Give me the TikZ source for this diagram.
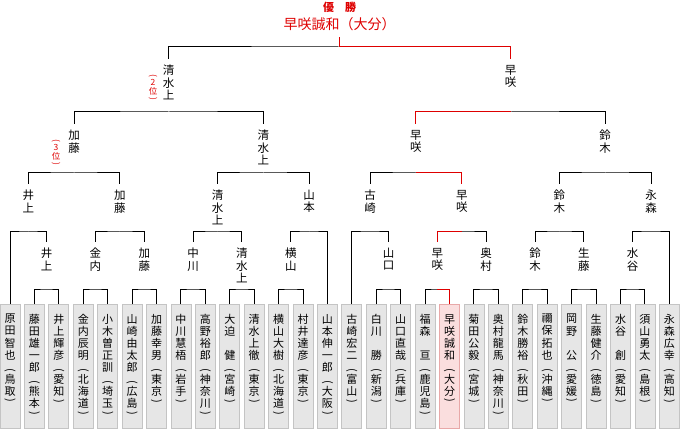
\documentclass[tikz,border=0pt]{standalone}
\usepackage{graphicx}
\usepackage{fontspec}
\newfontfamily\jpfont{Noto Sans CJK JP}

\definecolor{winred}{RGB}{222,0,0}
\definecolor{boxgray}{RGB}{230,230,230}
\definecolor{boxedge}{RGB}{196,196,196}
\definecolor{winfill}{RGB}{250,222,222}
\definecolor{winedge}{RGB}{232,168,168}

% vertical brackets, taking no room of their own
\newcommand\vlp{\raisebox{-0.2em}[0pt][0pt]{\rotatebox[origin=c]{-90}{(}}}
\newcommand\vrp{\raisebox{0.3em}[0pt][0pt]{\rotatebox[origin=c]{-90}{)}}}

\tikzset{
    bracket/.style={draw=black, line width=1pt},
    winline/.style={draw=winred, line width=1pt},
    pbox/.style={draw=boxedge, fill=boxgray, line width=0.8pt,
        minimum width=20pt, minimum height=124pt, inner sep=0pt},
    winbox/.style={pbox, draw=winedge, fill=winfill},
    ptext/.style={font=\jpfont\fontsize{11}{12.05}\selectfont,
        align=center, inner sep=0pt, anchor=north},
    lab/.style={font=\jpfont\fontsize{11.5}{12.5}\selectfont,
        align=center, inner sep=0pt, outer ysep=6pt, anchor=north},
    rank/.style={font=\jpfont\fontsize{8.5}{9.3}\selectfont, text=winred,
        align=center, inner sep=0pt, anchor=north}
}

\begin{document}
\begin{tikzpicture}[x=1pt, y=-1pt]

        \useasboundingbox (0,0) rectangle (680,430);

        %----- LEVELS OF THE BRACKET LINES -----
        \coordinate (h1) at (0,290);
        \coordinate (h2) at (0,232);
        \coordinate (h3) at (0,173);
        \coordinate (h4) at (0,112);
        \coordinate (h5) at (0,47);

        %----- 28 PLAYER BOXES -----
        \foreach \nm/\pf [count=\i from 0] in {
            原\\田\\智\\也/鳥\\取, 藤\\田\\雄\\一\\郎/熊\\本, 井\\上\\輝\\彦/愛\\知,
            金\\内\\辰\\明/北\\海\\道, 小\\木\\曽\\正\\訓/埼\\玉, 山\\崎\\由\\太\\郎/広\\島,
            加\\藤\\幸\\男/東\\京, 中\\川\\慧\\梧/岩\\手, 高\\野\\裕\\郎/神\\奈\\川,
            大\\迫\\\phantom{健}\\健/宮\\崎, 清\\水\\上\\徹/東\\京, 横\\山\\大\\樹/北\\海\\道,
            村\\井\\達\\彦/東\\京, 山\\本\\伸\\一\\郎/大\\阪, 古\\崎\\宏\\二/富\\山,
            白\\川\\\phantom{勝}\\勝/新\\潟, 山\\口\\直\\哉/兵\\庫, 福\\森\\\phantom{亘}\\亘/鹿\\児\\島,
            早\\咲\\誠\\和/大\\分, 菊\\田\\公\\毅/宮\\城, 奥\\村\\龍\\馬/神\\奈\\川,
            鈴\\木\\勝\\裕/秋\\田, 禰\\保\\拓\\也/沖\\縄, 岡\\野\\\phantom{公}\\公/愛\\媛,
            生\\藤\\健\\介/徳\\島, 水\\谷\\\phantom{創}\\創/愛\\知, 須\\山\\勇\\太/島\\根,
            永\\森\\広\\幸/高\\知} {
            \pgfmathsetmacro{\x}{10+24.42*\i}
            \ifnum\i=18 \tikzset{boxsel/.style={winbox}}\else\tikzset{boxsel/.style={pbox}}\fi
            \node[boxsel] (p\i) at (\x,366.5) {};
            \node[ptext] (t\i) at ([yshift=-10pt]p\i.north) {\nm\\\vlp\\\pf\\\vrp};
        }

        %----- WINNERS, ROUND 1 -----
        \node[lab] (b1) at (46.63,242) {井\\上};
        \node[lab] (b2) at (95.47,242) {金\\内};
        \node[lab] (b3) at (144.31,242) {加\\藤};
        \node[lab] (b4) at (193.15,242) {中\\川};
        \node[lab] (b5) at (241.99,242) {清\\水\\上};
        \node[lab] (b6) at (290.83,242) {横\\山};
        \node[lab] (b7) at (388.51,242) {山\\口};
        \node[lab] (b8) at (437.35,242) {早\\咲};
        \node[lab] (b9) at (486.19,242) {奥\\村};
        \node[lab] (b10) at (535.03,242) {鈴\\木};
        \node[lab] (b11) at (583.87,242) {生\\藤};
        \node[lab] (b12) at (632.71,242) {水\\谷};

        %----- WINNERS, ROUND 2 -----
        \node[lab] (c1) at (28.32,184) {井\\上};
        \node[lab] (c2) at (119.89,184) {加\\藤};
        \node[lab] (c3) at (217.57,184) {清\\水\\上};
        \node[lab] (c4) at (309.15,184) {山\\本};
        \node[lab] (c5) at (370.2,184) {古\\崎};
        \node[lab] (c6) at (461.77,184) {早\\咲};
        \node[lab] (c7) at (559.45,184) {鈴\\木};
        \node[lab] (c8) at (651.03,184) {永\\森};

        %----- WINNERS, ROUND 3 AND SEMIFINALS -----
        \node[lab] (d1) at (74.1,124) {加\\藤};
        \node[lab] (d2) at (263.36,124) {清\\水\\上};
        \node[lab] (d3) at (415.99,124) {早\\咲};
        \node[lab] (d4) at (605.24,124) {鈴\\木};
        \node[lab] (e1) at (168.73,59) {清\\水\\上};
        \node[lab] (e2) at (510.62,59) {早\\咲};

        \node[rank] (rk3) at (56,141.2) {\vlp\\3\\位\\\vrp};
        \node[rank] (rk2) at (153,76.2) {\vlp\\2\\位\\\vrp};

        %----- CHAMPION -----
        \node[font=\jpfont\bfseries\fontsize{11}{12}\selectfont, text=winred] (yusho) at (339.67,7) {優　勝};
        \node[font=\jpfont\fontsize{14}{15}\selectfont, text=winred,
            inner sep=0pt, outer ysep=6pt] (champ) at (339.67,24.5) {早咲誠和（大分）};

        %----- BRACKETS -----
        \foreach \a/\b/\w in {p1/p2/b1, p3/p4/b2, p5/p6/b3, p7/p8/b4, p9/p10/b5,
            p11/p12/b6, p15/p16/b7, p17/p18/b8, p19/p20/b9, p21/p22/b10,
            p23/p24/b11, p25/p26/b12}
            \draw[bracket] (\a.north) |- (h1 -| \w) -| (\b.north);
        \foreach \a/\b/\w in {p0/b1/c1, b2/b3/c2, b4/b5/c3, b6/p13/c4,
            p14/b7/c5, b8/b9/c6, b10/b11/c7, b12/p27/c8}
            \draw[bracket] (\a.north) |- (h2 -| \w) -| (\b.north);
        \foreach \a/\b/\w in {c1/c2/d1, c3/c4/d2, c5/c6/d3, c7/c8/d4}
            \draw[bracket] (\a.north) |- (h3 -| \w) -| (\b.north);
        \foreach \a/\b/\w in {d1/d2/e1, d3/d4/e2}
            \draw[bracket] (\a.north) |- (h4 -| \w) -| (\b.north);
        \draw[bracket] (e1.north) |- (h5 -| champ) -| (e2.north);

        %----- WINNER'S PATH IN RED -----
        \draw[winline] (h1 -| b8) -| (p18.north);
        \draw[winline] (h2 -| c6) -| (b8.north);
        \draw[winline] (h3 -| d3) -| (c6.north);
        \draw[winline] (h4 -| e2) -| (d3.north);
        \draw[winline] (h5 -| champ) -| (e2.north);
        \draw[winline] (champ.south) -- (h5 -| champ);

    \end{tikzpicture}
\end{document}
